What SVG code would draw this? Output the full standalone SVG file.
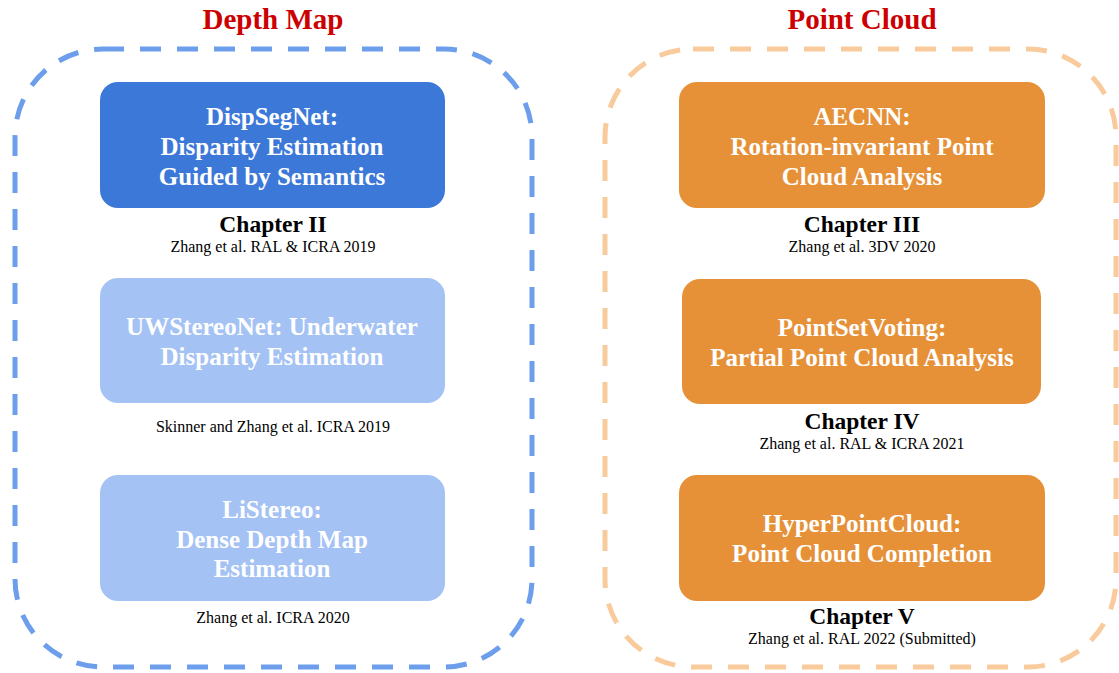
<svg xmlns="http://www.w3.org/2000/svg" width="1119" height="673" viewBox="0 0 1119 673">
<style>
.title{font-family:"Liberation Serif",serif;font-weight:bold;font-size:29px;fill:#CC0000;text-anchor:middle}
.nt{font-family:"Liberation Serif",serif;font-weight:bold;font-size:25px;fill:#ffffff;text-anchor:middle}
.ch{font-family:"Liberation Serif",serif;font-weight:bold;font-size:23.5px;fill:#000;text-anchor:middle}
.cite{font-family:"Liberation Serif",serif;font-size:16px;fill:#000;text-anchor:middle}
.blue{fill:#3C78D8}
.lblue{fill:#A4C2F4}
.orange{fill:#E69138}
.frame{fill:none;stroke-width:5;stroke-dasharray:21 16}
</style>
<rect width="1119" height="673" fill="#ffffff"/>
<g id="depth-map">
<rect class="frame" x="15" y="49" width="517" height="618" rx="88" stroke="#6D9EEB"/>
<text class="title" x="273" y="29">Depth Map</text>
</g>
<g id="point-cloud">
<rect class="frame" x="605" y="49" width="511" height="618" rx="88" stroke="#F9CB9C"/>
<text class="title" x="862" y="29">Point Cloud</text>
</g>
<g id="dispsegnet">
<rect class="blue" x="100" y="82" width="345" height="126" rx="18"/>
<text class="nt" x="272" y="125">DispSegNet:</text>
<text class="nt" x="272" y="155">Disparity Estimation</text>
<text class="nt" x="272" y="185">Guided by Semantics</text>
<text class="ch" x="273" y="232">Chapter II</text>
<text class="cite" x="273" y="252">Zhang et al. RAL &amp; ICRA 2019</text>
</g>
<g id="uwstereonet">
<rect class="lblue" x="100" y="278" width="345" height="125" rx="18"/>
<text class="nt" x="272" y="335">UWStereoNet: Underwater</text>
<text class="nt" x="272" y="365">Disparity Estimation</text>
<text class="cite" x="273" y="432">Skinner and Zhang et al. ICRA 2019</text>
</g>
<g id="listereo">
<rect class="lblue" x="100" y="475" width="345" height="126" rx="18"/>
<text class="nt" x="272" y="518">LiStereo:</text>
<text class="nt" x="272" y="548">Dense Depth Map</text>
<text class="nt" x="272" y="577">Estimation</text>
<text class="cite" x="273" y="623">Zhang et al. ICRA 2020</text>
</g>
<g id="aecnn">
<rect class="orange" x="679" y="82" width="366" height="126" rx="18"/>
<text class="nt" x="862" y="125">AECNN:</text>
<text class="nt" x="862" y="155">Rotation-invariant Point</text>
<text class="nt" x="862" y="185">Cloud Analysis</text>
<text class="ch" x="862" y="232">Chapter III</text>
<text class="cite" x="862" y="252">Zhang et al. 3DV 2020</text>
</g>
<g id="pointsetvoting">
<rect class="orange" x="682" y="279" width="359" height="125" rx="18"/>
<text class="nt" x="862" y="336">PointSetVoting:</text>
<text class="nt" x="862" y="366">Partial Point Cloud Analysis</text>
<text class="ch" x="862" y="429">Chapter IV</text>
<text class="cite" x="862" y="449">Zhang et al. RAL &amp; ICRA 2021</text>
</g>
<g id="hyperpointcloud">
<rect class="orange" x="679" y="475" width="366" height="126" rx="18"/>
<text class="nt" x="862" y="532">HyperPointCloud:</text>
<text class="nt" x="862" y="562">Point Cloud Completion</text>
<text class="ch" x="862" y="624">Chapter V</text>
<text class="cite" x="862" y="644">Zhang et al. RAL 2022 (Submitted)</text>
</g>
<g id="connectors"></g>
</svg>
